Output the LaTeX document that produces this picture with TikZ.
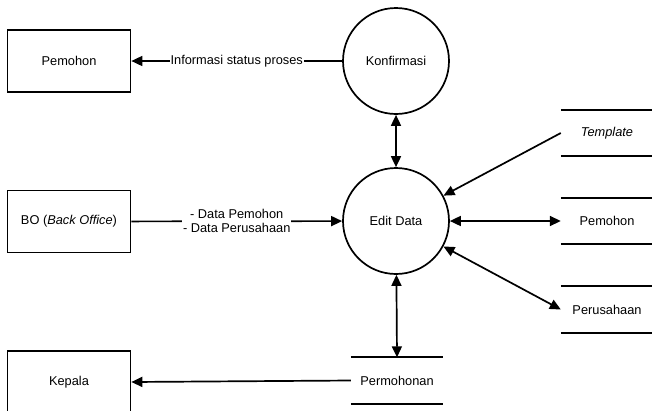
\documentclass[tikz,border=0pt]{standalone}
\usepackage{fontspec}
\setmainfont{Liberation Sans}
\usetikzlibrary{arrows.meta}
\begin{document}
\begin{tikzpicture}[x=1pt,y=-1pt,
  every node/.style={font=\fontsize{12.8}{14}\selectfont},
  entity/.style={draw, line width=1.7pt, minimum width=123pt, minimum height=62pt, inner sep=0pt},
  process/.style={draw, circle, line width=1.7pt, minimum size=106pt, inner sep=0pt},
  store/.style={minimum width=92pt, minimum height=46pt, inner sep=0pt},
  flow/.style={line width=1.7pt, -{Triangle[length=11pt,width=10pt]}},
  dflow/.style={line width=1.7pt, {Triangle[length=11pt,width=10pt]}-{Triangle[length=11pt,width=10pt]}},
  storeline/.style={line width=1.7pt},
  lbl/.style={fill=white, inner sep=0.8pt, align=center}]
  \useasboundingbox (0,0) rectangle (652,410);
  \clip (0,0) rectangle (652,410);

  % external entities
  \node[entity] (pem) at (69,61) {Pemohon};
  \node[entity] (bo)  at (69,221.5) {BO (\textit{Back Office})};
  \node[entity] (kep) at (69,382) {Kepala};

  % processes
  \node[process] (konf) at (396,61) {Konfirmasi};
  \node[process] (edit) at (396,221) {Edit Data};

  % data stores
  \node[store] (tpl)  at (607,133) {\textit{Template}};
  \node[store] (pst)  at (607,221) {Pemohon};
  \node[store] (prs)  at (607,309.5) {Perusahaan};
  \node[store] (perm) at (397,380.5) {Permohonan};
  \foreach \s in {tpl,pst,prs,perm}{
    \draw[storeline] (\s.north west) -- (\s.north east);
    \draw[storeline] (\s.south west) -- (\s.south east);
  }

  % data flows
  \draw[flow] (konf) -- node[lbl, midway] {Informasi status proses} (pem);
  \draw[flow] (bo) -- node[lbl, midway] {- Data Pemohon\\- Data Perusahaan} (edit);
  \draw[dflow] (konf) -- (edit);
  \draw[flow] (tpl.west) -- (edit);
  \draw[dflow] (edit) -- (pst.west);
  \draw[dflow] (edit) -- (prs.west);
  \draw[dflow] (edit) -- (perm.north);
  \draw[flow] (perm.west) -- (kep.east);
\end{tikzpicture}
\end{document}
